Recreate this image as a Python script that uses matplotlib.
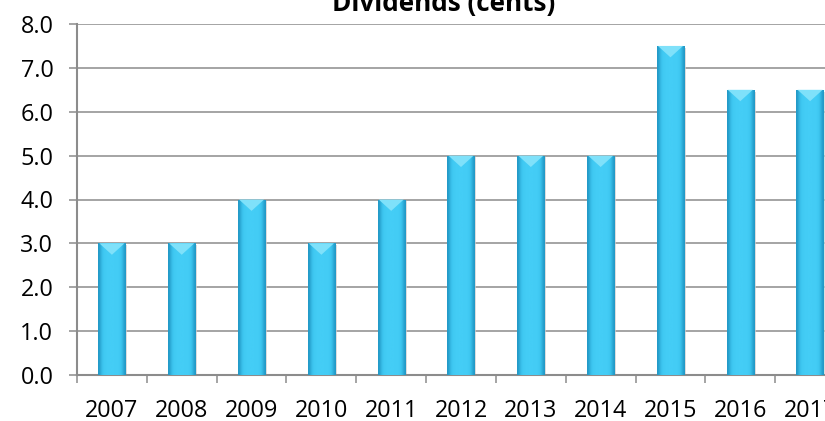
import numpy as np
import matplotlib
matplotlib.use("Agg")
import matplotlib.pyplot as plt
from matplotlib.patches import Polygon, Rectangle

years = ["2007", "2008", "2009", "2010", "2011", "2012",
         "2013", "2014", "2015", "2016", "2017"]
dividends = [3.0, 3.0, 4.0, 3.0, 4.0, 5.0, 5.0, 5.0, 7.5, 6.5, 6.5]
y_ticks = [0, 1, 2, 3, 4, 5, 6, 7, 8]

plt.rcParams["font.family"] = ["Open Sans", "DejaVu Sans"]

W, H = 825, 421
fig = plt.figure(figsize=(W / 100, H / 100), dpi=100)
# axis runs past the right edge of the picture, like the cropped original
ax = fig.add_axes([77 / W, 1 - 375 / H, 768 / W, 351 / H])

x = np.arange(len(years))
bar_w = 0.39
bars = ax.bar(x, dividends, width=bar_w, color="#3ec8f0", zorder=3, linewidth=0)

# horizontal gradient for a rounded look
grad = np.array([[0.0, 0.55, 0.85, 1.0, 1.0, 1.0, 1.0, 0.9, 0.6, 0.0]])
cmap = matplotlib.colors.LinearSegmentedColormap.from_list(
    "cy", ["#2298c6", "#3bc4ee", "#44cdf6"])
for b in bars:
    x0, w, h = b.get_x(), b.get_width(), b.get_height()
    # soft shadow to the right
    ax.add_patch(Rectangle((x0 + w, 0.02), 0.025, h - 0.06, color="#cfcfcf",
                           alpha=0.7, zorder=2, linewidth=0))
    im = ax.imshow(grad, cmap=cmap, aspect="auto", extent=(x0, x0 + w, 0, h),
                   zorder=3, interpolation="bicubic")
    im.set_clip_path(b)
    # bevelled top
    ax.add_patch(Polygon([(x0 + w * 0.04, h), (x0 + w * 0.96, h),
                          (x0 + w * 0.5, h - 0.26)],
                         closed=True, color="#7fe1fa", zorder=4, linewidth=0))

ax.set_xlim(-0.5, len(years) - 0.5)
ax.set_ylim(0, 8)
ax.set_yticks(y_ticks)
ax.set_yticklabels([f"{v:.1f}" for v in y_ticks])
ax.set_xticks(x)
ax.set_xticklabels(years)
ax.set_xticks(np.arange(len(years) + 1) - 0.5, minor=True)

ax.grid(axis="y", color="#8c8c8c", linewidth=1.1, zorder=1)
ax.set_axisbelow(True)

for side in ["top", "right"]:
    ax.spines[side].set_visible(False)
for side in ["left", "bottom"]:
    ax.spines[side].set_color("#8c8c8c")
    ax.spines[side].set_linewidth(1.5)

ax.tick_params(axis="y", length=6, width=1.1, color="#8c8c8c", pad=11,
               labelsize=16.8)
ax.tick_params(axis="x", which="major", length=0, pad=17, labelsize=16.8)
ax.tick_params(axis="x", which="minor", length=6, width=1.1, color="#8c8c8c")

fig.text(444 / W, 1 - 11 / H, "Dividends (cents)", ha="center", va="baseline",
         fontsize=18.8, fontweight="bold")

fig.savefig("out.png", dpi=100)
